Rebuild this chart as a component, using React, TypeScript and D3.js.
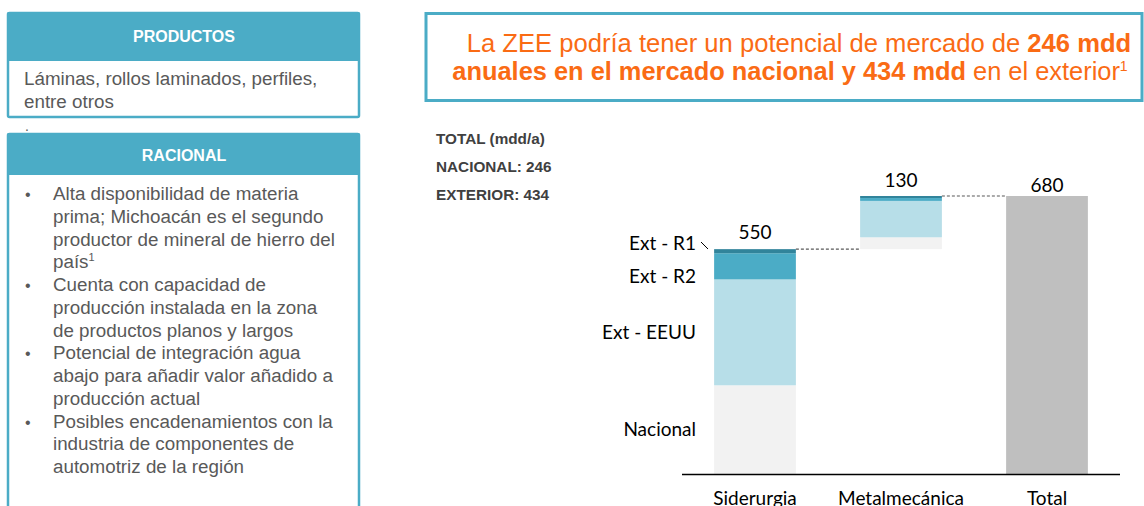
import React from "react";
import * as d3 from "d3";

// chart data (mdd/a)
const categories = ["Siderurgia", "Metalmecánica", "Total"];
const segmentKeys = ["Nacional", "Ext - EEUU", "Ext - R2", "Ext - R1"];
const siderurgiaValues = [217, 259, 64, 10];
const metalmecanicaValues = [29, 89, 7, 5];
const totalValues = [680];
const barLabels = ["550", "130", "680"];

// text blocks
const titleLine1 = [
  { t: "La ZEE podría tener un potencial de mercado de ", b: false },
  { t: "246 mdd", b: true },
];
const titleLine2 = [
  { t: "anuales en el mercado nacional y 434 mdd", b: true },
  { t: " en el exterior", b: false },
];
const summaryLines = ["TOTAL (mdd/a)", "NACIONAL: 246", "EXTERIOR: 434"];
const productosLines = ["Láminas, rollos laminados, perfiles,", "entre otros"];
const racionalBullets = [
  ["Alta disponibilidad de materia", "prima; Michoacán es el segundo", "productor de mineral de hierro del", "país"],
  ["Cuenta con capacidad de", "producción instalada en la zona", "de productos planos y largos"],
  ["Potencial de integración agua", "abajo para añadir valor añadido a", "producción actual"],
  ["Posibles encadenamientos con la", "industria de componentes de", "automotriz de la región"],
];

const segmentColors: Record<string, string> = {
  Nacional: "#F2F2F2",
  "Ext - EEUU": "#B7DEE8",
  "Ext - R2": "#4BACC6",
  "Ext - R1": "#31849B",
};
const totalColor = "#BFBFBF";
const teal = "#4BACC6";
const orange = "#FA6B14";
const grayText = "#595959";

const App = () => {
  const width = 1144;
  const height = 506;

  // scales
  const x = d3
    .scaleBand()
    .domain(categories)
    .range([682, 1120])
    .paddingInner(0.44)
    .paddingOuter(0.22);
  const y = d3.scaleLinear().domain([0, 680]).range([474, 196]);

  // waterfall bases: metalmecánica starts where siderurgia ends
  const sidTotal = d3.sum(siderurgiaValues);
  const metTotal = d3.sum(metalmecanicaValues);
  const bases = [0, sidTotal, 0];
  const tops = [sidTotal, sidTotal + metTotal, d3.sum(totalValues)];

  const buildSegs = (vals: number[], base: number) => {
    const cum = [0, ...Array.from(d3.cumsum(vals))];
    return vals.map((v, i) => ({
      key: segmentKeys[i],
      y0: base + cum[i],
      y1: base + cum[i + 1],
    }));
  };
  const stacks = [
    buildSegs(siderurgiaValues, bases[0]),
    buildSegs(metalmecanicaValues, bases[1]),
  ];

  const bw = x.bandwidth();
  const labelGap = [10, 9, 4];
  const segLabelShift = [0, 0, 10, -8];

  const font = "'Liberation Sans', Arial, sans-serif";
  const chartFont = "Lato, 'Liberation Sans', sans-serif";

  return (
    <svg
      width={width}
      height={height}
      style={{ position: "absolute", left: 0, top: 0, background: "#fff" }}
    >
      {/* PRODUCTOS box */}
      <rect x={8} y={13} width={351} height={104} fill="#fff" stroke={teal} strokeWidth={2.5} rx={1.5} />
      <rect x={7} y={12} width={353} height={49} fill={teal} rx={1.5} />
      <text x={184} y={42} textAnchor="middle" fill="#fff" fontFamily={font} fontWeight="bold" fontSize={16}>
        PRODUCTOS
      </text>
      {productosLines.map((l, i) => (
        <text key={l} x={24} y={85 + i * 23} fill={grayText} fontFamily={font} fontSize={18.8}>
          {l}
        </text>
      ))}
      <text x={25} y={131} fill={grayText} fontFamily={font} fontSize={14}>.</text>

      {/* RACIONAL box */}
      <rect x={8} y={134} width={351} height={400} fill="#fff" stroke={teal} strokeWidth={2.5} rx={1.5} />
      <rect x={7} y={133} width={353} height={42} fill={teal} rx={1.5} />
      <text x={184} y={161} textAnchor="middle" fill="#fff" fontFamily={font} fontWeight="bold" fontSize={16}>
        RACIONAL
      </text>
      {(() => {
        let line = 0;
        return racionalBullets.map((b, bi) => {
          const start = line;
          line += b.length;
          return (
            <g key={bi}>
              <text x={25} y={200 + start * 22.75} fill={grayText} fontFamily={font} fontSize={16}>
                •
              </text>
              {b.map((l, li) => (
                <text key={li} x={53} y={200 + (start + li) * 22.75} fill={grayText} fontFamily={font} fontSize={18.8}>
                  {l}
                  {bi === 0 && li === b.length - 1 ? (
                    <tspan dy={-7} fontSize={11}>1</tspan>
                  ) : null}
                </text>
              ))}
            </g>
          );
        });
      })()}

      {/* title box */}
      <rect x={426} y={13.5} width={716} height={87} fill="#fff" stroke={teal} strokeWidth={3} />
      <text x={799} y={52} textAnchor="middle" fill={orange} fontFamily={font} fontSize={25.6}>
        {titleLine1.map((p, i) => (
          <tspan key={i} fontWeight={p.b ? "bold" : "normal"}>{p.t}</tspan>
        ))}
      </text>
      <text x={790} y={80} textAnchor="middle" fill={orange} fontFamily={font} fontSize={25.4}>
        {titleLine2.map((p, i) => (
          <tspan key={i} fontWeight={p.b ? "bold" : "normal"}>{p.t}</tspan>
        ))}
        <tspan dy={-9} fontSize={14}>1</tspan>
      </text>

      {/* summary */}
      {summaryLines.map((l, i) => (
        <text key={l} x={436} y={144 + i * 28} fill="#404040" fontFamily={font} fontWeight="bold" fontSize={15.3}>
          {l}
        </text>
      ))}

      {/* stacked bars */}
      {stacks.map((segs, ci) =>
        segs.map((s) => (
          <rect
            key={categories[ci] + s.key}
            x={x(categories[ci])!}
            y={y(s.y1)}
            width={bw}
            height={y(s.y0) - y(s.y1)}
            fill={segmentColors[s.key]}
          />
        ))
      )}
      <rect
        x={x(categories[2])!}
        y={y(tops[2])}
        width={bw}
        height={y(bases[2]) - y(tops[2])}
        fill={totalColor}
      />

      {/* connectors */}
      {[0, 1].map((i) => (
        <line
          key={i}
          x1={x(categories[i])! + bw}
          x2={x(categories[i + 1])!}
          y1={y(tops[i])}
          y2={y(tops[i])}
          stroke="#595959"
          strokeWidth={1.2}
          strokeDasharray="3,2"
        />
      ))}

      {/* value labels */}
      {categories.map((c, i) => (
        <text
          key={c}
          x={x(c)! + bw / 2}
          y={y(tops[i]) - labelGap[i]}
          textAnchor="middle"
          fill="#000"
          fontFamily={chartFont}
          fontSize={19}
        >
          {barLabels[i]}
        </text>
      ))}

      {/* segment labels */}
      {stacks[0].map((s, i) => (
        <text
          key={s.key}
          x={696}
          y={(y(s.y0) + y(s.y1)) / 2 + segLabelShift[i]}
          dy="0.35em"
          textAnchor="end"
          fill="#000"
          fontFamily={chartFont}
          fontSize={19}
        >
          {s.key}
        </text>
      ))}
      <line x1={701} y1={242} x2={708} y2={249} stroke="#000" strokeWidth={1} />

      {/* axis */}
      <line x1={682} x2={1120} y1={474.5} y2={474.5} stroke="#000" strokeWidth={1.5} />
      {categories.map((c) => (
        <text
          key={c}
          x={x(c)! + bw / 2}
          y={505}
          textAnchor="middle"
          fill="#000"
          fontFamily={chartFont}
          fontSize={19}
        >
          {c}
        </text>
      ))}
    </svg>
  );
};

export default App;
